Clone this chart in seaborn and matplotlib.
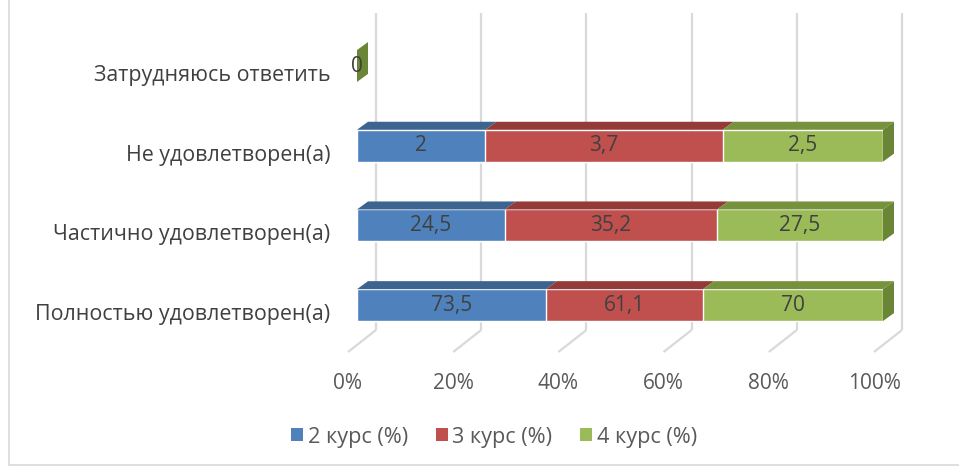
import numpy as np
import pandas as pd
import matplotlib
matplotlib.use("Agg")
import matplotlib.pyplot as plt
import seaborn as sns
from matplotlib.transforms import ScaledTranslation
from matplotlib.patches import Polygon, Patch
from matplotlib.lines import Line2D

# ---- data ----
categories = ["Затрудняюсь ответить", "Не удовлетворен(а)",
              "Частично удовлетворен(а)", "Полностью удовлетворен(а)"]
series = ["2 курс (%)", "3 курс (%)", "4 курс (%)"]
course2 = [0, 2, 24.5, 73.5]
course3 = [0, 3.7, 35.2, 61.1]
course4 = [0, 2.5, 27.5, 70]
xticks = [0, 20, 40, 60, 80, 100]
xticklabels = ["0%", "20%", "40%", "60%", "80%", "100%"]

colors = ["#4F81BD", "#C0504D", "#9BBB59"]
top_colors = ["#3C648F", "#943A38", "#76923C"]
side_colors = ["#365A82", "#7F3230", "#6A8535"]

sns.set_theme(style="white")
plt.rcParams['font.family'] = ['Open Sans', 'DejaVu Sans']

W, H = 959, 469
fig = plt.figure(figsize=(W / 100, H / 100), dpi=100)
fig.patch.set_facecolor("white")
ax = fig.add_axes([340 / W, (H - 352) / H, (W - 340) / W, 352 / H])

PXX = 5.26   # px per percent
PXY = 79.7   # px per category step

raw = np.array([course2, course3, course4], dtype=float)
tot = raw.sum(axis=0)
share = np.divide(raw * 100, tot, out=np.zeros_like(raw), where=tot > 0)
right = np.cumsum(share, axis=0)
left = right - share

bar_h = 0.40
dx = 11 / PXX
dy = 8 / PXY

# background grid (back wall + floor)
y_wall_top = (13 - 66) / PXY
y_wall_bot = (330 - 66) / PXY
y_floor = (352 - 66) / PXY
back_off = 19 / PXX
front_off = -9 / PXX
for t in xticks:
    ax.plot([t + back_off, t + back_off], [y_wall_top, y_wall_bot],
            color="#D9D9D9", lw=1.6, zorder=0.3, clip_on=False, solid_capstyle="butt")
    ax.plot([t + back_off, t + front_off], [y_wall_bot, y_floor],
            color="#D9D9D9", lw=1.6, zorder=0.3, clip_on=False, solid_capstyle="butt")

# stacked bars (cumulative totals, drawn from the last series back)
for s in [2, 1, 0]:
    df = pd.DataFrame({"cat": categories, "val": right[s]})
    sns.barplot(data=df, x="val", y="cat", order=categories, orient="h",
                color=colors[s], saturation=1, width=bar_h, errorbar=None,
                ax=ax, zorder=1)

# 3D faces
for i in range(len(categories)):
    top = i - bar_h / 2
    bot = i + bar_h / 2
    last = None
    for s in range(3):
        l, r = left[s, i], right[s, i]
        if r - l > 0:
            ax.add_patch(Polygon([(l, top), (r, top), (r + dx, top - dy), (l + dx, top - dy)],
                                 closed=True, facecolor=top_colors[s], edgecolor="none", zorder=2))
            last = s
    if last is None:
        last = 2
    r = right[last, i]
    ax.add_patch(Polygon([(r, top), (r + dx, top - dy), (r + dx, bot - dy), (r, bot)],
                         closed=True, facecolor=side_colors[last], edgecolor="none", zorder=2))

def fmt(v):
    return f"{v:g}".replace(".", ",")

for i in range(len(categories)):
    if tot[i] == 0:
        ax.text(0, i, fmt(0), ha="center", va="center", fontsize=15, color="#404040", zorder=5)
        continue
    for s in range(3):
        ax.text((left[s, i] + right[s, i]) / 2, i, fmt(raw[s, i]), ha="center", va="center",
                fontsize=15, color="#404040", zorder=5)

ax.set_xlim((340 - 357) / PXX, (959 - 357) / PXX)
ax.set_ylim((352 - 66) / PXY, (0 - 66) / PXY)
for sp in ax.spines.values():
    sp.set_visible(False)
ax.grid(False)
ax.set_xlabel("")
ax.set_ylabel("")

ax.set_xticks(xticks, xticklabels)
ax.tick_params(axis="x", length=0, pad=15, labelsize=15, labelcolor="#595959")
for lab in ax.get_xticklabels():
    lab.set_transform(lab.get_transform() + ScaledTranslation(-9 / 100, 0, fig.dpi_scale_trans))

ax.set_yticks(range(len(categories)), categories)
ax.tick_params(axis="y", length=0, pad=7, labelsize=15.4, labelcolor="#404040")
for lab in ax.get_yticklabels():
    lab.set_transform(lab.get_transform() + ScaledTranslation(0, -7 / 100, fig.dpi_scale_trans))

handles = [Patch(facecolor=c, edgecolor="none", label=l) for c, l in zip(colors, series)]
fig.legend(handles=handles, loc="center", bbox_to_anchor=(494 / W, 1 - 437 / H), ncol=3,
           frameon=False, handlelength=0.55, handleheight=0.55, handletextpad=0.2,
           columnspacing=1.3, fontsize=15.6, labelcolor="#595959")

fig.add_artist(Line2D([9 / W, 9 / W], [1, 1 - 465 / H], transform=fig.transFigure, color="#D9D9D9", lw=1.2))
fig.add_artist(Line2D([9 / W, 1], [1 - 465 / H, 1 - 465 / H], transform=fig.transFigure, color="#D9D9D9", lw=1.2))

fig.savefig("out.png", dpi=100, facecolor="white")
